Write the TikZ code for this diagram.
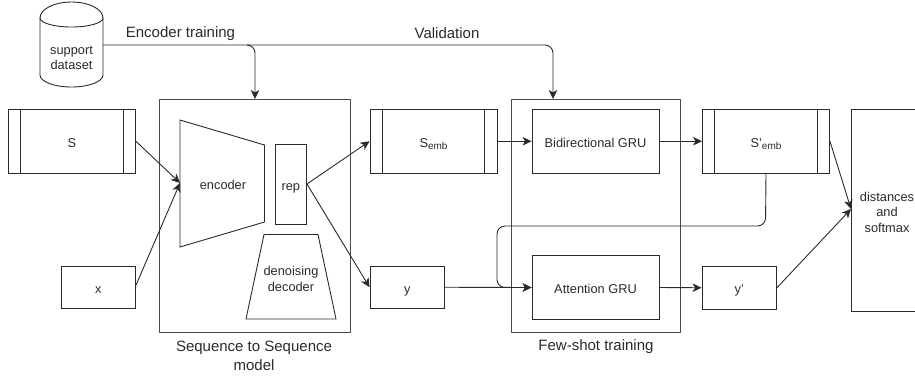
\documentclass[tikz,border=0pt]{standalone}
\usepackage{fontspec}
\setmainfont{Liberation Sans}
\usetikzlibrary{arrows.meta}
\definecolor{ink}{HTML}{2A2A2A}
\newcommand{\subtxt}[1]{\raisebox{-2.6pt}{\fontsize{10}{10}\selectfont #1}}
\tikzset{
  box/.style={draw=ink,line width=0.9pt,rectangle,inner sep=0pt,text=ink,font=\fontsize{12.8}{15.5}\selectfont,align=center,text height=12pt,text depth=0pt},
  outerframe/.style={draw=ink!85,line width=1pt,rectangle,inner sep=0pt},
  lab/.style={inner sep=0pt,text=ink,font=\fontsize{12.8}{15.5}\selectfont,align=center},
  captext/.style={inner sep=0pt,text=ink,font=\fontsize{15}{19}\selectfont,align=center},
  conn/.style={draw=ink,line width=0.9pt},
  arr/.style={conn,-{Stealth[length=9pt,width=8.5pt,inset=2.5pt]}},
  wire/.style={arr,rounded corners=8pt}
}
\begin{document}
\begin{tikzpicture}[x=1pt,y=-1pt]
\useasboundingbox (0,0) rectangle (915,376);
% frames
\node[outerframe,minimum width=191pt,minimum height=233pt] (seq) at (254.5,215.5) {};
\node[outerframe,minimum width=169.5pt,minimum height=233pt] (few) at (595.75,215.5) {};
% data store
\draw[conn] (40,18) arc[start angle=180,end angle=0,x radius=31.5pt,y radius=16pt]
  -- (103,75) arc[start angle=0,end angle=-180,x radius=31.5pt,y radius=12pt] -- cycle;
\draw[conn] (40,18) arc[start angle=180,end angle=360,x radius=31.5pt,y radius=9pt];
\node[lab] (db) at (71.5,58) {support\\dataset};
\coordinate (dbout) at (103,45);
% inputs
\node[box,minimum width=127pt,minimum height=63.5pt] (S) at (72,141.25) {S};
\node[box,minimum width=74.5pt,minimum height=42.5pt] (x) at (98.25,287.25) {x};
% encoder
\coordinate (encin) at (180,183);
\draw[conn] (180,120) -- (264.5,145) -- (264.5,222) -- (180,247) -- cycle;
\node[lab] (enc) at (223,185) {encoder};
\node[box,minimum width=31.5pt,minimum height=80pt] (rep) at (290.75,184) {rep};
\draw[conn] (264,234.5) -- (318,234.5) -- (336,319) -- (246,319) -- cycle;
\node[lab] (dec) at (291,279) {denoising\\decoder};
% embeddings and outputs
\node[box,minimum width=127pt,minimum height=63.5pt] (Semb) at (433.5,141.25) {S\subtxt{emb}};
\node[box,minimum width=74.5pt,minimum height=42.5pt] (y) at (407.25,287.25) {y};
\node[box,minimum width=127pt,minimum height=63.5pt] (bi) at (595.5,141.25) {Bidirectional GRU};
\node[box,minimum width=127pt,minimum height=63.5pt] (att) at (595.5,287.5) {Attention GRU};
\node[box,minimum width=127pt,minimum height=63.5pt] (Sp) at (766,141.25) {S'\subtxt{emb}};
\node[box,minimum width=74.5pt,minimum height=42.5pt] (yp) at (739.25,287.75) {y'};
% side bars of the list boxes
\foreach \n in {S,Semb,Sp}{
  \draw[conn] ([xshift=12.75pt]\n.north west) -- ([xshift=12.75pt]\n.south west);
  \draw[conn] ([xshift=-12.75pt]\n.north east) -- ([xshift=-12.75pt]\n.south east);
}
% distances: runs off the right edge
\draw[conn] (915,109.5) -- (851,109.5) -- (851,311) -- (915,311);
\coordinate (dist) at (851,209);
\node[lab] (distt) at (887,212) {distances\\and\\softmax};
% connectors
\coordinate (junc) at (247,45);
\draw[wire] (dbout) -- (553,45) -- (553,99);
\draw[wire] (junc) -- (255,45) -- (255,99);
\draw[arr] (S.east) -- (encin);
\draw[arr] ([yshift=2pt]x.east) -- (encin);
\draw[arr] (rep.east) -- (Semb.west);
\draw[arr] (rep.east) -- (y.west);
\draw[arr] (Semb.east) -- (bi.west);
\draw[arr] (bi.east) -- (Sp.west);
\draw[wire] (Sp.south) -- (765.5,226) -- (497,226) -- (497,287.5) -- (att.west);
\draw[arr] (y.east) -- (att.west);
\draw[arr] (att.east) -- (yp.west);
\draw[arr] (Sp.east) -- (dist);
\draw[arr] (yp.east) -- (dist);
% captions
\node[captext] (c1) at (180.5,33.5) {Encoder training};
\node[captext] (c2) at (447,33) {Validation};
\node[captext] (c3) at (254,355.5) {Sequence to Sequence\\model};
\node[captext] (c4) at (596,346.5) {Few-shot training};
\end{tikzpicture}
\end{document}
